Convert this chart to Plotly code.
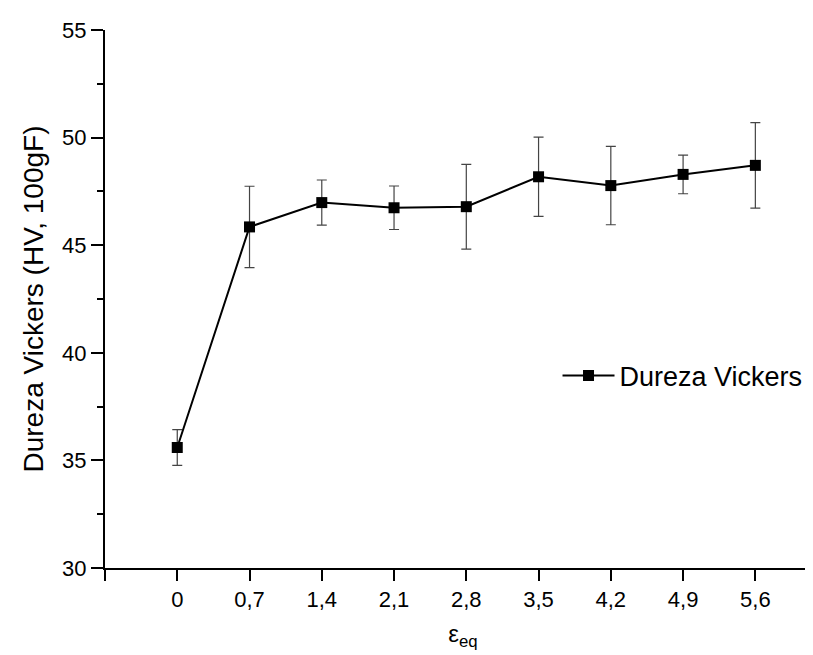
import plotly.graph_objects as go

# Data
strain = [0, 0.7, 1.4, 2.1, 2.8, 3.5, 4.2, 4.9, 5.6]
hardness = [35.6, 45.85, 46.98, 46.74, 46.79, 48.18, 47.77, 48.29, 48.71]
hardness_err = [0.83, 1.89, 1.05, 1.01, 1.97, 1.84, 1.82, 0.90, 1.99]

x_tickvals = [-0.7, 0, 0.7, 1.4, 2.1, 2.8, 3.5, 4.2, 4.9, 5.6]
x_ticktext = ["", "0", "0,7", "1,4", "2,1", "2,8", "3,5", "4,2", "4,9", "5,6"]
y_tickvals = [30, 35, 40, 45, 50, 55]

FONT = "Liberation Sans, Arial, sans-serif"

fig = go.Figure()
fig.add_trace(go.Scatter(
    x=strain, y=hardness,
    mode="lines+markers",
    name="Dureza Vickers",
    line=dict(color="black", width=2),
    marker=dict(symbol="square", size=11, color="black"),
    error_y=dict(type="data", array=hardness_err, visible=True,
                 color="#444444", thickness=1.2, width=5),
))

fig.update_layout(
    width=813, height=655,
    paper_bgcolor="white", plot_bgcolor="white",
    margin=dict(l=97, r=0, t=22, b=95),
    font=dict(family=FONT, color="black", size=22),
    showlegend=True,
    legend=dict(
        x=0.632, y=0.357, xanchor="left", yanchor="middle",
        bgcolor="rgba(0,0,0,0)", borderwidth=0, itemwidth=52,
        font=dict(family=FONT, size=27, color="black"),
    ),
    xaxis=dict(
        range=[-0.7, 6.236], automargin=False,
        tickmode="array", tickvals=x_tickvals, ticktext=x_ticktext,
        ticks="outside", ticklen=11, tickwidth=2, tickcolor="black",
        showline=True, linewidth=2, linecolor="black",
        showgrid=False, zeroline=False,
        tickfont=dict(size=22),
        title=dict(text="ε<sub>eq</sub>", font=dict(size=24), standoff=14),
    ),
    yaxis=dict(
        range=[30, 55], automargin=False,
        tickmode="array", tickvals=y_tickvals,
        ticks="outside", ticklen=12, tickwidth=2, tickcolor="black",
        minor=dict(dtick=2.5, tick0=30, ticks="outside", ticklen=6,
                   tickwidth=2, tickcolor="black"),
        showline=True, linewidth=2, linecolor="black",
        showgrid=False, zeroline=False,
        tickfont=dict(size=22),
        title=dict(text="Dureza Vickers (HV, 100gF)", font=dict(size=28), standoff=10),
    ),
)

fig.write_html("out.html")
